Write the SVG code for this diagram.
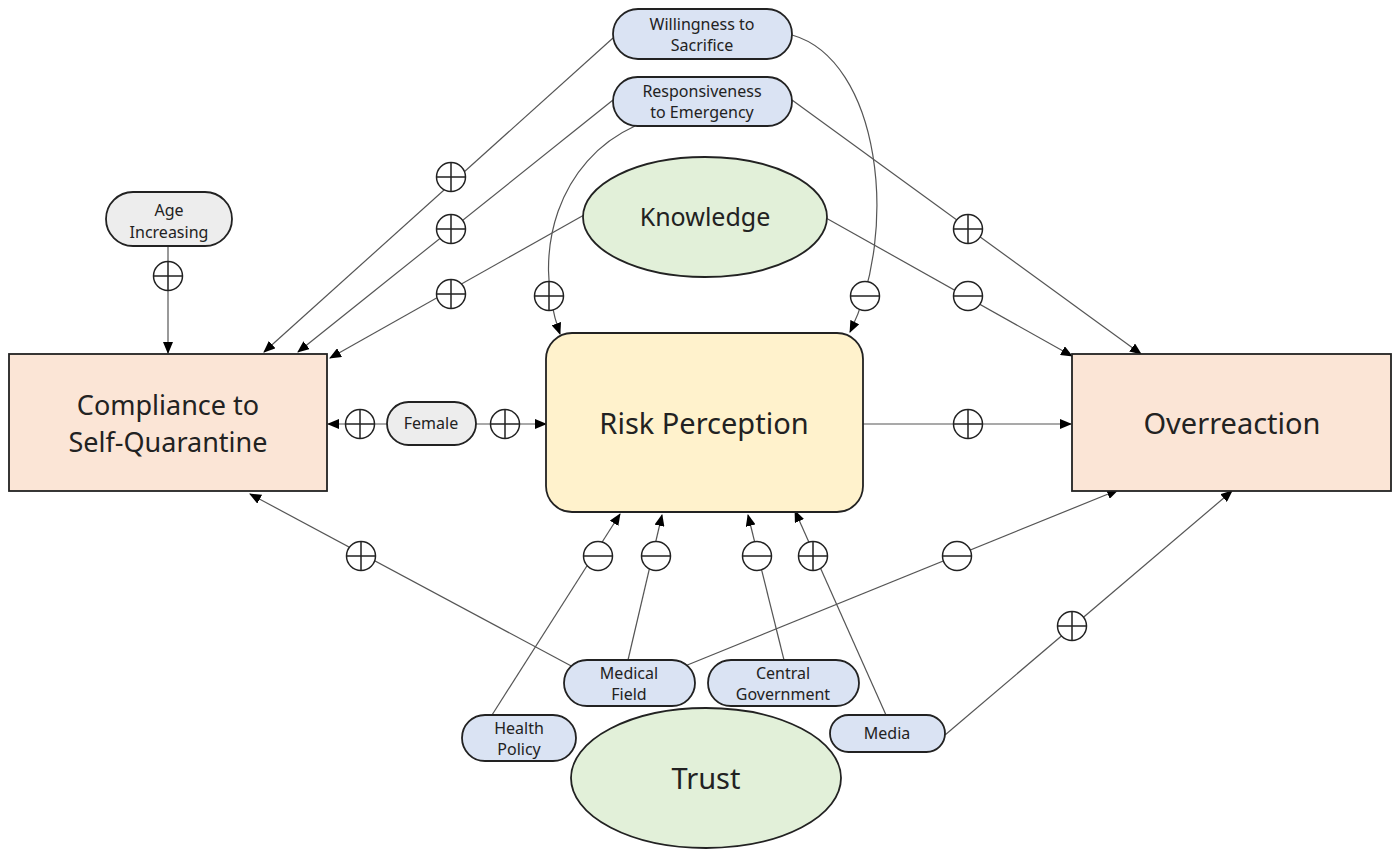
<svg xmlns="http://www.w3.org/2000/svg" width="1400" height="851" viewBox="0 0 1400 851">
<defs>
<marker id="arr" markerWidth="12" markerHeight="10" refX="11" refY="5" orient="auto" markerUnits="userSpaceOnUse">
<path d="M0,0 L12,5 L0,10 Z" fill="#000"/>
</marker>
<g id="plus"><circle r="14.5" fill="#fff" stroke="#222" stroke-width="1.5"/><path d="M-14.5,0 H14.5 M0,-14.5 V14.5" stroke="#222" stroke-width="1.5"/></g>
<g id="minus"><circle r="14.5" fill="#fff" stroke="#222" stroke-width="1.5"/><path d="M-14.5,0 H14.5" stroke="#222" stroke-width="1.5"/></g>
</defs>
<style>
text{font-family:"Noto Sans","Open Sans","Liberation Sans",sans-serif;fill:#222;text-anchor:middle}
.big{font-size:29px}
.cq{font-size:27px}
.sm{font-size:16px}
.box{fill:#FBE5D6;stroke:#222;stroke-width:1.8}
.rp{fill:#FFF2CC;stroke:#222;stroke-width:1.8}
.ell{fill:#E2F0D9;stroke:#222;stroke-width:1.8}
.blue{fill:#DAE3F3;stroke:#222;stroke-width:1.8}
.grey{fill:#EDEDED;stroke:#222;stroke-width:1.8}
.c{fill:none;stroke:#555;stroke-width:1.2;marker-end:url(#arr)}
</style>
<rect width="1400" height="851" fill="#fff"/>
<g id="connectors">
<path class="c" d="M613,38 L264,352"/>
<path class="c" d="M613,100 L298,352"/>
<path class="c" d="M584,215 L330,358"/>
<path class="c" d="M168,246 L168,353"/>
<path class="c" d="M635,126 C560,160 530,250 560,334"/>
<path class="c" d="M792,35 C880,60 900,230 850,332"/>
<path class="c" d="M792,100 L1141,354"/>
<path class="c" d="M826,218 L1072,356"/>
<path class="c" d="M387,424 L328,424"/>
<path class="c" d="M476,424 L546,424"/>
<path class="c" d="M863,424 L1071,424"/>
<path class="c" d="M575,668 L250,494"/>
<path class="c" d="M680,668 L1118,490"/>
<path class="c" d="M492,715 L620,514"/>
<path class="c" d="M628,660 L662,515"/>
<path class="c" d="M784,660 L748,515"/>
<path class="c" d="M886,715 L795,511"/>
<path class="c" d="M945,735 L1232,491"/>
<use href="#plus" x="451" y="177"/>
<use href="#plus" x="451" y="229"/>
<use href="#plus" x="451" y="294"/>
<use href="#plus" x="168" y="276"/>
<use href="#plus" x="549" y="296"/>
<use href="#minus" x="865" y="296"/>
<use href="#plus" x="968" y="229"/>
<use href="#minus" x="968" y="296"/>
<use href="#plus" x="360" y="424"/>
<use href="#plus" x="505" y="424"/>
<use href="#plus" x="968" y="424"/>
<use href="#plus" x="361" y="556"/>
<use href="#minus" x="957" y="556"/>
<use href="#minus" x="598" y="556"/>
<use href="#minus" x="656" y="556"/>
<use href="#minus" x="757" y="556"/>
<use href="#plus" x="813" y="556"/>
<use href="#plus" x="1072" y="626"/>
</g>
<g id="compliance"><rect class="box" x="9" y="354" width="318" height="137"/><text class="cq" x="168" y="415">Compliance to</text><text class="cq" x="168" y="452">Self-Quarantine</text></g>
<g id="risk"><rect class="rp" x="546" y="333" width="317" height="179" rx="26"/><text class="big" x="704" y="434">Risk Perception</text></g>
<g id="overreaction"><rect class="box" x="1072" y="354" width="319" height="137"/><text class="big" x="1232" y="434">Overreaction</text></g>
<g id="knowledge"><ellipse class="ell" cx="705" cy="217" rx="122" ry="60"/><text x="705" y="226" style="font-size:25px">Knowledge</text></g>
<g id="trust"><ellipse class="ell" cx="706" cy="778" rx="135" ry="70"/><text class="big" x="706" y="789">Trust</text></g>
<g id="willingness"><rect class="blue" x="613" y="9" width="179" height="50" rx="25"/><text class="sm" x="702" y="30">Willingness to</text><text class="sm" x="702" y="51">Sacrifice</text></g>
<g id="responsiveness"><rect class="blue" x="613" y="77" width="179" height="49" rx="24.5"/><text class="sm" x="702" y="97">Responsiveness</text><text class="sm" x="702" y="118">to Emergency</text></g>
<g id="age"><rect class="grey" x="106" y="192" width="126" height="54" rx="27"/><text class="sm" x="169" y="216">Age</text><text class="sm" x="169" y="238">Increasing</text></g>
<g id="female"><rect class="grey" x="387" y="402" width="89" height="43" rx="21.5"/><text class="sm" x="431" y="429">Female</text></g>
<g id="medical"><rect class="blue" x="564" y="660" width="131" height="46" rx="23"/><text class="sm" x="629" y="679">Medical</text><text class="sm" x="629" y="700">Field</text></g>
<g id="central"><rect class="blue" x="708" y="660" width="151" height="46" rx="23"/><text class="sm" x="783" y="679">Central</text><text class="sm" x="783" y="700">Government</text></g>
<g id="health"><rect class="blue" x="462" y="715" width="114" height="46" rx="23"/><text class="sm" x="519" y="734">Health</text><text class="sm" x="519" y="755">Policy</text></g>
<g id="media"><rect class="blue" x="830" y="715" width="115" height="37" rx="18.5"/><text class="sm" x="887" y="739">Media</text></g>
</svg>
